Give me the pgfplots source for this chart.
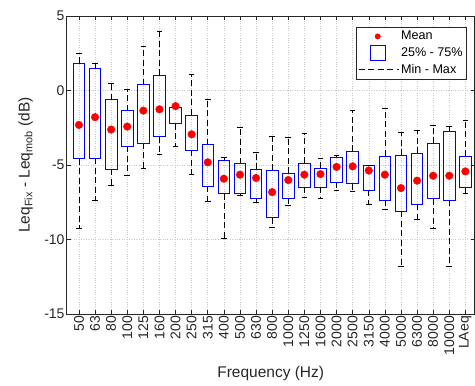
\documentclass[border=0pt]{standalone}
\usepackage{pgfplots}
\pgfplotsset{compat=1.18}
\usepackage{pgfplotstable}
\usepgfplotslibrary{statistics}
\usepackage{fontspec}
\setmainfont{Liberation Sans}
\definecolor{axgray}{HTML}{262626}
\definecolor{gridgray}{HTML}{C8C8C8}
\definecolor{boxblue}{HTML}{0000FF}

\pgfplotstableread{
x  mn      q1     mean   q3     mx
0  -9.24  -4.57  -2.31   1.84   2.53
1  -7.38  -4.55  -1.79   1.46   1.82
2  -6.39  -5.27  -2.62  -0.61   0.47
3  -5.67  -3.74  -2.42  -1.35   0.07
4  -5.20  -3.52  -1.35   0.38   2.98
5  -4.28  -3.09  -1.26   1.03   3.97
6  -3.77  -2.24  -1.05  -1.14  -1.14
7  -5.60  -4.01  -2.94  -1.64   1.10
8  -7.42  -6.41  -4.82  -3.63  -0.58
9  -9.91  -6.93  -5.92  -4.71  -4.51
10 -7.06  -6.88  -5.65  -4.91  -2.47
11 -7.47  -7.26  -5.87  -5.29  -4.15
12 -9.17  -8.54  -6.82  -5.36  -3.07
13 -7.69  -7.22  -6.01  -5.54  -3.16
14 -7.17  -6.48  -5.65  -4.87  -2.89
15 -7.26  -6.50  -5.61  -5.20  -4.53
16 -6.68  -6.14  -5.13  -4.46  -4.35
17 -6.79  -6.26  -5.09  -4.08  -1.35
18 -7.65  -6.70  -5.37  -5.03  -5.03
19 -7.98  -7.38  -5.65  -4.39  -1.21
20 -11.79 -8.09  -6.55  -4.35  -2.83
21 -8.63  -7.62  -6.05  -4.22  -2.67
22 -9.22  -7.26  -5.72  -3.54  -2.35
23 -11.79 -7.38  -5.72  -2.74  -2.40
24 -6.93  -6.48  -5.43  -4.42  -1.97
}\data

\begin{document}
\begin{tikzpicture}
\begin{axis}[
  at={(0pt,0pt)}, anchor=south west,
  scale only axis, width=408pt, height=298pt,
  xmin=-0.76, xmax=24.58,
  ymin=-15, ymax=5,
  ytick={-15,-10,-5,0,5},
  xtick={0,...,24},
  xticklabels={50,63,80,100,125,160,200,250,315,400,500,630,800,1000,1250,1600,2000,2500,3150,4000,5000,6300,8000,10000,LAeq},
  x tick label style={rotate=90, anchor=east, font=\fontsize{14}{16}\selectfont, text=axgray, inner sep=2pt},
  y tick label style={font=\fontsize{14}{16}\selectfont, text=axgray, inner sep=2pt},
  /pgf/number format/assume math mode=true,
  tick align=inside, major tick length=4pt,
  tick style={axgray, line width=0.5pt},
  axis line style={axgray, line width=0.6pt},
  grid=major,
  major grid style={gridgray, dotted, line width=0.5pt},
  xlabel={Frequency (Hz)},
  ylabel={Leq\textsubscript{Fix} - Leq\textsubscript{mob} (dB)},
  label style={font=\fontsize{15.5}{17}\selectfont, text=axgray, inner sep=0pt},
  xlabel style={at={(axis description cs:0.5,0)}, anchor=north, yshift=-52pt},
  ylabel style={at={(axis description cs:-0.0826,0.5)}, anchor=south},
  legend style={at={(rel axis cs:0.981,0.963)}, anchor=north east,
    font=\fontsize{12.6}{14}\selectfont, draw=axgray, line width=0.6pt,
    cells={anchor=west}, row sep=1.5pt, inner sep=2pt, inner xsep=2pt},
  legend cell align=left,
  boxplot/draw direction=y,
  boxplot/box extend=0.72,
  boxplot/whisker extend=0,
]
\addlegendimage{legend image code/.code={\fill[red] (19pt,0pt) circle (2.6pt);}}
\addlegendimage{legend image code/.code={\draw[boxblue, line width=0.7pt] (11.5pt,-7.5pt) rectangle (26.5pt,7.5pt);}}
\addlegendimage{legend image code/.code={\draw[black, line width=0.6pt, dash pattern=on 6pt off 3.5pt] (0pt,0pt) -- (40pt,0pt);}}
\legend{Mean, 25\% - 75\%, Min - Max}

% dashed whiskers (boxplot with invisible boxes)
\pgfplotsinvokeforeach{0,...,24}{
  \pgfplotstablegetelem{#1}{mn}\of\data \let\vmn\pgfplotsretval
  \pgfplotstablegetelem{#1}{q1}\of\data \let\vqa\pgfplotsretval
  \pgfplotstablegetelem{#1}{q3}\of\data \let\vqc\pgfplotsretval
  \pgfplotstablegetelem{#1}{mx}\of\data \let\vmx\pgfplotsretval
  \pgfplotstablegetelem{#1}{mean}\of\data \let\vmd\pgfplotsretval
  \edef\tmpplot{\noexpand\addplot[forget plot, black, boxplot/every box/.style={draw=none}, boxplot/every median/.style={draw=none}, boxplot/every whisker/.style={draw=black, line width=0.6pt, dash pattern=on 6pt off 3.5pt}, boxplot prepared={lower whisker=\vmn, lower quartile=\vqa, median=\vmd, upper quartile=\vqc, upper whisker=\vmx, draw position=#1}] coordinates {};}
  \tmpplot
}
% boxes
\pgfplotsinvokeforeach{0,...,24}{
  \pgfplotstablegetelem{#1}{q1}\of\data \let\vqa\pgfplotsretval
  \pgfplotstablegetelem{#1}{q3}\of\data \let\vqc\pgfplotsretval
  \pgfplotstablegetelem{#1}{mean}\of\data \let\vmd\pgfplotsretval
  \edef\tmpplot{\noexpand\addplot[forget plot, boxblue, boxplot/every box/.style={draw=boxblue, line width=0.8pt}, boxplot/every median/.style={draw=none}, boxplot/every whisker/.style={draw=none}, boxplot prepared={lower whisker=\vqa, lower quartile=\vqa, median=\vmd, upper quartile=\vqc, upper whisker=\vqc, draw position=#1}] coordinates {};}
  \tmpplot
}

% whisker caps
\addplot[forget plot, only marks, mark=-, mark size=2.8pt, black, mark options={line width=0.6pt}]
  table[x=x, y=mx] {\data};
\addplot[forget plot, only marks, mark=-, mark size=2.8pt, black, mark options={line width=0.6pt}]
  table[x=x, y=mn] {\data};

% means
\addplot[forget plot, only marks, mark=*, red, mark size=3.8pt]
  table[x=x, y=mean] {\data};
\end{axis}
\pgfresetboundingbox
\path[use as bounding box] (-66.7pt,-72pt) rectangle (408.3pt,314pt);
\end{tikzpicture}
\end{document}
